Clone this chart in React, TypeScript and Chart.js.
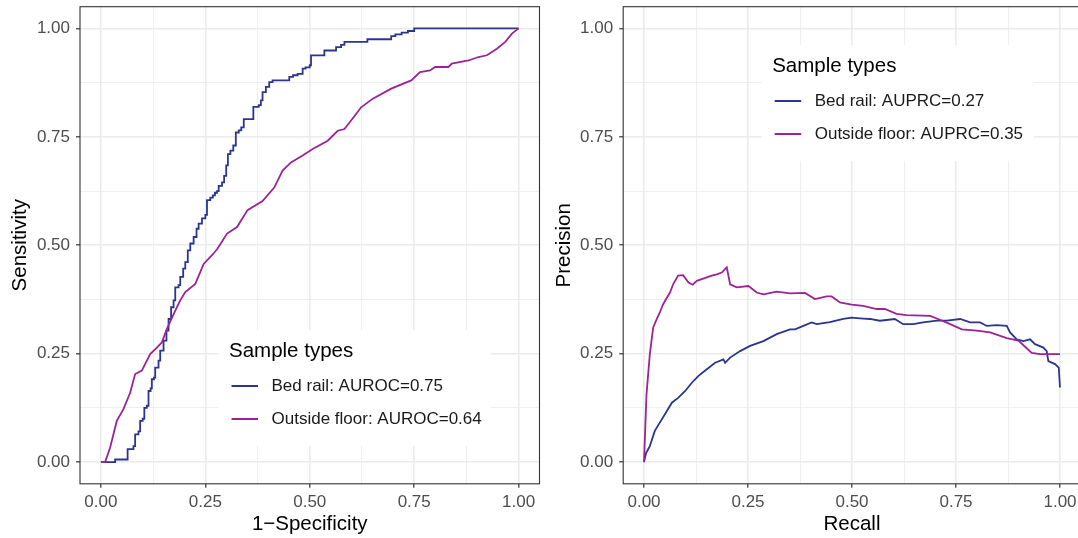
import React, { useEffect, useRef } from "react";
import { Chart, registerables } from "chart.js";

Chart.register(...registerables);

// ---------- data ----------
const GRID_VALUES = [0, 0.125, 0.25, 0.375, 0.5, 0.625, 0.75, 0.875, 1];
const TICK_LABELS = ["0.00", "0.25", "0.50", "0.75", "1.00"];
const SERIES_NAMES = ["Bed rail", "Outside floor"];
const ROC_AUC = ["0.75", "0.64"];
const PR_AUC = ["0.27", "0.35"];
const LEGEND_TITLE = "Sample types";

// ROC — Bed rail (step curve: x where the step rises, y after the rise)
const ROC_BED_FPR = [0, 0.034, 0.064, 0.078, 0.082, 0.09, 0.094, 0.1, 0.104, 0.11, 0.114, 0.119, 0.122, 0.127, 0.13, 0.138, 0.142, 0.15, 0.157, 0.162, 0.168, 0.174, 0.178, 0.186, 0.19, 0.197, 0.202, 0.208, 0.214, 0.222, 0.229, 0.234, 0.242, 0.25, 0.254, 0.262, 0.268, 0.273, 0.278, 0.282, 0.29, 0.295, 0.3, 0.304, 0.31, 0.317, 0.323, 0.33, 0.336, 0.342, 0.365, 0.378, 0.383, 0.387, 0.395, 0.403, 0.411, 0.451, 0.46, 0.471, 0.483, 0.49, 0.5, 0.503, 0.535, 0.563, 0.575, 0.583, 0.638, 0.695, 0.705, 0.72, 0.735, 0.75, 1];
const ROC_BED_TPR = [0, 0.006, 0.03, 0.037, 0.064, 0.071, 0.095, 0.1, 0.125, 0.13, 0.164, 0.17, 0.191, 0.195, 0.218, 0.234, 0.257, 0.28, 0.303, 0.33, 0.357, 0.373, 0.403, 0.408, 0.427, 0.446, 0.461, 0.488, 0.504, 0.519, 0.538, 0.55, 0.562, 0.57, 0.604, 0.61, 0.615, 0.621, 0.625, 0.637, 0.645, 0.66, 0.684, 0.71, 0.718, 0.73, 0.76, 0.765, 0.772, 0.791, 0.819, 0.823, 0.834, 0.853, 0.865, 0.876, 0.88, 0.888, 0.892, 0.895, 0.907, 0.91, 0.915, 0.938, 0.949, 0.957, 0.962, 0.969, 0.975, 0.982, 0.986, 0.99, 0.994, 1, 1];

// ROC — Outside floor
const ROC_FLOOR_FPR = [0, 0.01, 0.022, 0.038, 0.054, 0.07, 0.082, 0.098, 0.118, 0.134, 0.146, 0.158, 0.178, 0.19, 0.202, 0.226, 0.246, 0.266, 0.279, 0.302, 0.326, 0.351, 0.387, 0.415, 0.435, 0.455, 0.483, 0.507, 0.543, 0.567, 0.583, 0.605, 0.623, 0.651, 0.695, 0.743, 0.764, 0.788, 0.8, 0.832, 0.84, 0.88, 0.904, 0.924, 0.948, 0.968, 0.984, 1];
const ROC_FLOOR_TPR = [0, 0, 0.033, 0.095, 0.122, 0.16, 0.203, 0.211, 0.249, 0.264, 0.276, 0.307, 0.349, 0.373, 0.392, 0.411, 0.457, 0.477, 0.492, 0.527, 0.542, 0.581, 0.602, 0.633, 0.672, 0.691, 0.707, 0.722, 0.741, 0.764, 0.768, 0.795, 0.818, 0.838, 0.861, 0.88, 0.899, 0.903, 0.911, 0.911, 0.919, 0.926, 0.934, 0.938, 0.953, 0.969, 0.988, 1];

// PR — Bed rail
const PR_BED_RECALL = [0, 0.005, 0.014, 0.026, 0.038, 0.055, 0.067, 0.082, 0.099, 0.115, 0.131, 0.151, 0.171, 0.191, 0.195, 0.207, 0.231, 0.255, 0.287, 0.319, 0.351, 0.363, 0.383, 0.403, 0.415, 0.447, 0.479, 0.499, 0.527, 0.543, 0.567, 0.603, 0.623, 0.647, 0.671, 0.704, 0.728, 0.76, 0.784, 0.808, 0.824, 0.848, 0.872, 0.88, 0.896, 0.912, 0.928, 0.94, 0.96, 0.968, 0.972, 0.988, 0.997, 1];
const PR_BED_PRECISION = [0, 0.021, 0.037, 0.072, 0.091, 0.118, 0.137, 0.148, 0.164, 0.183, 0.199, 0.214, 0.229, 0.237, 0.229, 0.241, 0.256, 0.268, 0.279, 0.295, 0.306, 0.306, 0.314, 0.322, 0.318, 0.323, 0.33, 0.333, 0.331, 0.33, 0.326, 0.33, 0.318, 0.318, 0.322, 0.326, 0.326, 0.33, 0.322, 0.322, 0.314, 0.316, 0.314, 0.299, 0.283, 0.279, 0.283, 0.272, 0.264, 0.256, 0.233, 0.226, 0.218, 0.172];

// PR — Outside floor
const PR_FLOOR_RECALL = [0, 0.006, 0.014, 0.022, 0.029, 0.038, 0.046, 0.055, 0.0625, 0.07, 0.082, 0.094, 0.107, 0.117, 0.127, 0.139, 0.151, 0.163, 0.175, 0.187, 0.199, 0.207, 0.223, 0.251, 0.271, 0.287, 0.319, 0.351, 0.387, 0.411, 0.439, 0.451, 0.471, 0.499, 0.527, 0.559, 0.579, 0.607, 0.631, 0.688, 0.707, 0.736, 0.764, 0.8, 0.832, 0.872, 0.9, 0.916, 0.932, 0.952, 1];
const PR_FLOOR_PRECISION = [0, 0.156, 0.249, 0.31, 0.326, 0.345, 0.364, 0.379, 0.391, 0.41, 0.43, 0.431, 0.414, 0.409, 0.418, 0.422, 0.426, 0.43, 0.433, 0.437, 0.449, 0.41, 0.403, 0.406, 0.391, 0.387, 0.393, 0.389, 0.39, 0.376, 0.382, 0.382, 0.368, 0.363, 0.36, 0.353, 0.353, 0.342, 0.339, 0.337, 0.33, 0.318, 0.306, 0.303, 0.299, 0.286, 0.28, 0.266, 0.252, 0.249, 0.249];

// ---------- styles ----------
const FONT = "'Liberation Sans', Arial, Helvetica, sans-serif";
const BLUE = "#2B3590";
const PURPLE = "#9C2299";

const zip = (xs: number[], ys: number[]) => xs.map((x, i) => ({ x, y: ys[i] }));
const isMajor = (v: number) => Math.abs(v * 4 - Math.round(v * 4)) < 1e-6;

const legendPlugin = {
  id: "ggLegend",
  afterDatasetsDraw(chart: any, _args: any, opts: any) {
    const { ctx, chartArea: a } = chart;
    const bx = a.left + opts.dx;
    const by = a.top + opts.dy;
    ctx.save();
    ctx.fillStyle = "#ffffff";
    ctx.fillRect(bx, by, 272, 116);
    ctx.textBaseline = "middle";
    ctx.textAlign = "left";
    ctx.fillStyle = "#000000";
    ctx.font = `20.5px ${FONT}`;
    ctx.fillText(opts.title, bx + 10.5, by + 21);
    chart.data.datasets.forEach((ds: any, i: number) => {
      const y = by + 56 + i * 33;
      ctx.strokeStyle = ds.borderColor;
      ctx.lineWidth = 2;
      ctx.beginPath();
      ctx.moveTo(bx + 13, y);
      ctx.lineTo(bx + 39.5, y);
      ctx.stroke();
      ctx.fillStyle = "#1A1A1A";
      ctx.font = `17px ${FONT}`;
      ctx.fillText(ds.label, bx + 53, y + 0.5);
    });
    ctx.restore();
  },
};

const borderPlugin = {
  id: "panelBorder",
  afterDraw(chart: any) {
    const { ctx, chartArea: a } = chart;
    ctx.save();
    ctx.strokeStyle = "#333333";
    ctx.lineWidth = 1.1;
    ctx.strokeRect(a.left, a.top, a.right - a.left, a.bottom - a.top);
    ctx.restore();
  },
};

function makeScale(title: string, isX: boolean, fixedSize: number, titlePad: number) {
  return {
    type: "linear",
    min: -0.05,
    max: 1.05,
    afterBuildTicks: (s: any) => {
      s.ticks = GRID_VALUES.map((v) => ({ value: v }));
    },
    afterFit: (s: any) => {
      if (isX) {
        s.height = fixedSize;
        s.paddingLeft = 0;
        s.paddingRight = 0;
      } else {
        s.width = fixedSize;
        s.paddingTop = 0;
        s.paddingBottom = 0;
      }
    },
    ticks: {
      autoSkip: false,
      maxRotation: 0,
      minRotation: 0,
      padding: isX ? 4 : 6,
      color: "#4D4D4D",
      font: { family: FONT, size: 17 },
      callback: (v: number) => (isMajor(v) ? TICK_LABELS[Math.round(v * 4)] : ""),
    },
    grid: {
      color: "#EBEBEB",
      lineWidth: (c: any) => (c.tick && !isMajor(c.tick.value) ? 0.8 : 1.6),
      drawTicks: true,
      tickLength: 4,
      tickWidth: 1.2,
      tickColor: (c: any) => (c.tick && isMajor(c.tick.value) ? "#333333" : "rgba(0,0,0,0)"),
    },
    border: { display: false },
    title: {
      display: true,
      text: title,
      color: "#000000",
      font: { family: FONT, size: 20.5 },
      padding: isX ? { top: 0, bottom: titlePad } : { top: titlePad, bottom: 0 },
    },
  };
}

function makeConfig(p: {
  datasets: any[];
  xTitle: string;
  yTitle: string;
  yAxisWidth: number;
  yTitlePad: number;
  padRight: number;
  legendDx: number;
  legendDy: number;
}) {
  return {
    type: "line",
    data: { datasets: p.datasets },
    options: {
      responsive: false,
      animation: false,
      devicePixelRatio: 1,
      events: [],
      layout: { padding: { top: 6.7, right: p.padRight, bottom: 0, left: 0 } },
      scales: {
        x: makeScale(p.xTitle, true, 538 - 483.8, 1.7),
        y: makeScale(p.yTitle, false, p.yAxisWidth, p.yTitlePad),
      },
      plugins: {
        legend: { display: false },
        tooltip: { enabled: false },
        ggLegend: { title: LEGEND_TITLE, dx: p.legendDx, dy: p.legendDy },
      },
    },
    plugins: [legendPlugin, borderPlugin],
  };
}

function lineDs(label: string, data: any[], color: string, stepped: boolean, order: number) {
  return {
    label,
    data,
    borderColor: color,
    backgroundColor: color,
    borderWidth: 1.8,
    pointRadius: 0,
    fill: false,
    tension: 0,
    stepped,
    order,
  };
}

export default function App() {
  const rocRef = useRef<HTMLCanvasElement>(null);
  const prRef = useRef<HTMLCanvasElement>(null);

  useEffect(() => {
    const roc = new Chart(
      rocRef.current as HTMLCanvasElement,
      makeConfig({
        datasets: [
          lineDs(`${SERIES_NAMES[0]}: AUROC=${ROC_AUC[0]}`, zip(ROC_BED_FPR, ROC_BED_TPR), BLUE, true, 1),
          lineDs(`${SERIES_NAMES[1]}: AUROC=${ROC_AUC[1]}`, zip(ROC_FLOOR_FPR, ROC_FLOOR_TPR), PURPLE, false, 0),
        ],
        xTitle: "1\u2212Specificity",
        yTitle: "Sensitivity",
        yAxisWidth: 80,
        yTitlePad: 8.4,
        padRight: 1.5,
        legendDx: 138.5,
        legendDy: 323.3,
      }) as any
    );
    const pr = new Chart(
      prRef.current as HTMLCanvasElement,
      makeConfig({
        datasets: [
          lineDs(`${SERIES_NAMES[0]}: AUPRC=${PR_AUC[0]}`, zip(PR_BED_RECALL, PR_BED_PRECISION), BLUE, false, 1),
          lineDs(`${SERIES_NAMES[1]}: AUPRC=${PR_AUC[1]}`, zip(PR_FLOOR_RECALL, PR_FLOOR_PRECISION), PURPLE, false, 0),
        ],
        xTitle: "Recall",
        yTitle: "Precision",
        yAxisWidth: 83.2,
        yTitlePad: 11.7,
        padRight: 19.2,
        legendDx: 138.5,
        legendDy: 38.3,
      }) as any
    );
    return () => {
      roc.destroy();
      pr.destroy();
    };
  }, []);

  return (
    <div
      style={{
        position: "fixed",
        left: 0,
        top: 0,
        width: 1078,
        height: 538,
        overflow: "hidden",
        background: "#ffffff",
      }}
    >
      <canvas
        ref={rocRef}
        width={541}
        height={538}
        style={{ position: "absolute", left: 0, top: 0, width: 541, height: 538 }}
      />
      <canvas
        ref={prRef}
        width={560}
        height={538}
        style={{ position: "absolute", left: 540, top: 0, width: 560, height: 538 }}
      />
    </div>
  );
}
